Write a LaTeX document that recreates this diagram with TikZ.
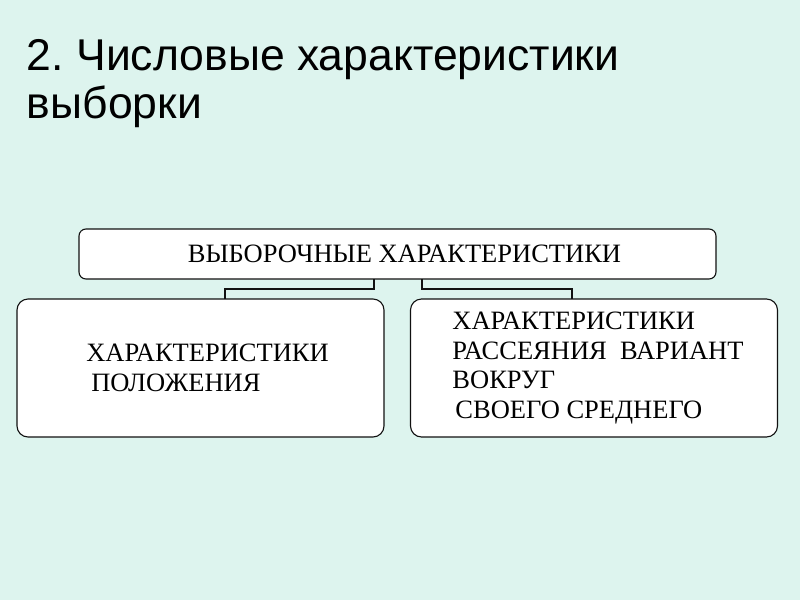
\documentclass[tikz,border=0pt]{standalone}
\usepackage{fontspec}
\setmainfont{Liberation Serif}
\newfontfamily\titlefont{Liberation Sans}
\usetikzlibrary{positioning,calc}
\definecolor{cBg}  {HTML}{DDF4EE}
\definecolor{cLine}{HTML}{111111}
\frenchspacing
\tikzset{
  box/.style   ={draw=cLine,fill=white,line width=1.1pt,align=left,
                 font=\fontsize{26.5}{29.5}\selectfont,inner sep=0pt},
  topbox/.style={box,rounded corners=7pt,minimum width=637pt,minimum height=50pt},
  subbox/.style={box,rounded corners=11pt,minimum width=367pt,minimum height=138pt},
  conn/.style  ={draw=cLine,line width=2.6pt},
  ttl/.style   ={font=\titlefont\fontsize{44.5}{48}\selectfont,align=left,inner sep=0pt},
}

\begin{document}
\begin{tikzpicture}[x=1pt,y=1pt,every node/.style={outer sep=0pt}]
\fill[cBg] (0,0) rectangle (800,-600);
\useasboundingbox (0,0) rectangle (800,-600);

\node[ttl,anchor=base west] (title) at (27,-118)
  {2. Числовые характеристики\\выборки};

\node[topbox] (top) at (397.5,-254) {\hspace*{14pt}ВЫБОРОЧНЫЕ ХАРАКТЕРИСТИКИ};
\node[subbox] (pos) at (200.5,-368)
  {\hspace*{14pt}ХАРАКТЕРИСТИКИ\\\hspace*{19pt}ПОЛОЖЕНИЯ};
\node[subbox,yshift=-3pt] (disp) at (594,-365)
  {\hspace*{8pt}ХАРАКТЕРИСТИКИ\\\hspace*{8pt}РАССЕЯНИЯ\ \ ВАРИАНТ\\\hspace*{8pt}ВОКРУГ\\\hspace*{11pt}СВОЕГО СРЕДНЕГО};

% bracket connectors
\draw[conn] ([xshift=-23.5pt]top.south) -- ++(0,-10) -| ([xshift=24.5pt]pos.north);
\draw[conn] ([xshift=24.5pt]top.south) -- ++(0,-10) -| ([xshift=-22pt]disp.north);
\end{tikzpicture}
\end{document}
